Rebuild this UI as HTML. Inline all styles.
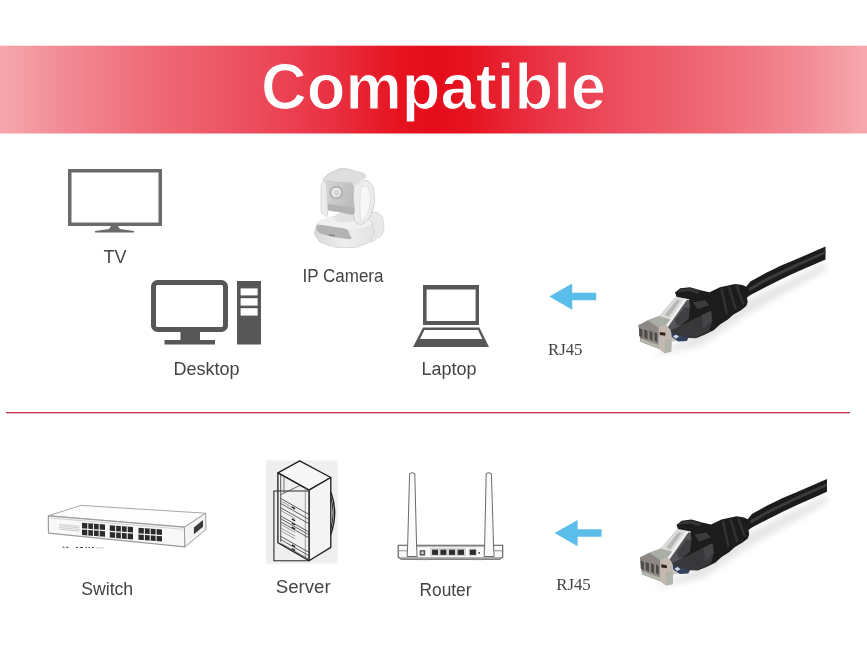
<!DOCTYPE html>
<html lang="en">
<head>
<meta charset="utf-8">
<title>Compatible</title>
<style>
html,body{margin:0;padding:0;background:#fff;}
body{width:867px;height:650px;overflow:hidden;position:relative;}
svg{position:absolute;left:0;top:0;display:block;will-change:transform;}
.sans{font-family:"Liberation Sans",sans-serif;}
.serif{font-family:"Liberation Serif",serif;}
</style>
</head>
<body>
<svg width="867" height="650" viewBox="0 0 867 650">
<defs>
<linearGradient id="ban" x1="0" x2="1" y1="0" y2="0">
<stop offset="0" stop-color="#f6a8ae"/>
<stop offset="0.07" stop-color="#f28c96"/>
<stop offset="0.17" stop-color="#ef6c79"/>
<stop offset="0.29" stop-color="#ec4e5e"/>
<stop offset="0.38" stop-color="#e93143"/>
<stop offset="0.46" stop-color="#e6131f"/>
<stop offset="0.5" stop-color="#e50c1b"/>
<stop offset="0.54" stop-color="#e6131f"/>
<stop offset="0.62" stop-color="#e93143"/>
<stop offset="0.71" stop-color="#ec4e5e"/>
<stop offset="0.83" stop-color="#ef6c79"/>
<stop offset="0.93" stop-color="#f28c96"/>
<stop offset="1" stop-color="#f6a8ae"/>
</linearGradient>
<linearGradient id="ban2" href="#ban" gradientUnits="userSpaceOnUse" x1="0" x2="867" y1="0" y2="0"/>
<g id="arrow"><path d="M0 13 L23 0 L23 9.3 L47 9.3 L47 16.8 L23 16.8 L23 26.2 Z" fill="#5bbde9"/></g>
<filter id="blur" x="-20%" y="-20%" width="140%" height="140%"><feGaussianBlur stdDeviation="3"/></filter>
<linearGradient id="plug" x1="0" x2="1" y1="0" y2="0"><stop offset="0" stop-color="#a9a7a3"/><stop offset="0.5" stop-color="#c9c9c7"/><stop offset="1" stop-color="#8a8d92"/></linearGradient>
<linearGradient id="camb" x1="0" x2="1" y1="0" y2="0"><stop offset="0" stop-color="#d9d9d9"/><stop offset="0.5" stop-color="#efefef"/><stop offset="1" stop-color="#e2e2e2"/></linearGradient>
<linearGradient id="camh" x1="0" x2="1" y1="0" y2="0.3"><stop offset="0" stop-color="#d6d6d6"/><stop offset="0.6" stop-color="#c8c8c8"/><stop offset="1" stop-color="#bcbcbc"/></linearGradient>
<filter id="soft" x="-10%" y="-10%" width="120%" height="120%"><feGaussianBlur stdDeviation="0.45"/></filter>
</defs>

<!-- banner -->
<rect x="0" y="45.7" width="867" height="87.8" fill="url(#ban)"/>
<text class="sans" x="433.5" y="108.6" font-size="64" font-weight="bold" fill="#fff" stroke="url(#ban2)" stroke-width="1.2" text-anchor="middle" textLength="345" lengthAdjust="spacingAndGlyphs">Compatible</text>

<!-- TV -->
<g id="tv">
<rect x="69.75" y="170.75" width="90.5" height="53.5" fill="none" stroke="#6a6a6a" stroke-width="3.5"/>
<path d="M111 226 L118 226 L120 229 L134 231 L134 232.5 L95 232.5 L95 231 L109 229 Z" fill="#6a6a6a"/>
</g>
<text class="sans" x="115" y="263" font-size="18" fill="#444" text-anchor="middle">TV</text>

<!-- Desktop -->
<g id="desktop" fill="#575757">
<rect x="153.5" y="282.5" width="72" height="47" rx="4" ry="4" fill="none" stroke="#575757" stroke-width="5"/>
<rect x="180.5" y="331" width="19.5" height="10"/>
<rect x="164.5" y="340" width="50.5" height="4.5"/>
<rect x="237" y="281" width="24" height="63.5"/>
<rect x="240.6" y="288.4" width="17" height="7" fill="#fff"/>
<rect x="240.6" y="298.2" width="17" height="7.4" fill="#fff"/>
<rect x="240.6" y="308.2" width="17" height="7.4" fill="#fff"/>
</g>
<text class="sans" x="206.5" y="375" font-size="18" fill="#444" text-anchor="middle">Desktop</text>

<!-- IP Camera -->
<g id="camera" filter="url(#soft)">
<path d="M367.3 216.8 C369.5 212.3 370.7 212.8 374.2 212.3 C377.7 211.9 378.1 212.6 380.5 215.1 C382.9 217.6 382.6 216.9 383.2 221.6 C383.9 226.3 384.5 228.3 382.8 232.7 C381.2 237.1 380.4 236.0 377.0 238.2 C373.6 240.4 373.0 243.4 370.1 241.0 C367.1 238.6 366.7 235.7 365.9 229.2 C365.2 222.8 365.1 221.3 367.3 216.8 Z" fill="#e9e9e9" stroke="#d2d2d2" stroke-width="0.8"/>
<path d="M315.8 228.5 C318.0 222.9 315.2 223.2 324.4 219.5 C333.6 215.9 334.1 216.7 346.5 216.5 C359.0 216.3 357.9 215.9 365.9 218.8 C373.9 221.8 371.1 220.9 373.1 226.5 C375.1 232.1 375.6 232.1 372.6 237.5 C369.6 243.0 371.0 241.8 363.2 244.7 C355.3 247.7 357.3 247.5 346.5 247.5 C335.7 247.5 336.0 247.5 327.2 244.7 C318.3 242.0 320.6 243.1 317.2 238.2 C313.8 233.4 313.6 234.1 315.8 228.5 Z" fill="url(#camb)" stroke="#d0d0d0" stroke-width="0.8"/>
<ellipse cx="344.5" cy="223.0" rx="27" ry="6.5" fill="#f1f1f1"/>
<path d="M317.7 225.1 C320.2 224.2 327.9 226.0 332.7 226.7 C337.5 227.4 343.7 227.9 346.5 229.2 C349.4 230.6 349.3 233.1 350.0 234.8 C350.7 236.4 352.4 238.7 350.7 239.2 C349.0 239.7 343.3 238.4 339.6 237.8 C335.9 237.3 332.1 236.8 328.5 235.9 C325.0 234.9 320.0 233.8 318.2 232.0 C316.4 230.2 315.3 226.0 317.7 225.1 Z" fill="#b3b3b3"/>
<path d="M329.2 234.9 L334.8 235.9" stroke="#7d7d7d" stroke-width="1.1" fill="none"/>
<path d="M337.5 213.3 C340.6 212.0 348.3 212.6 351.4 214.3 C354.4 215.9 355.8 220.3 352.8 221.6 C349.7 222.9 339.2 222.6 336.2 220.9 C333.1 219.3 334.5 214.6 337.5 213.3 Z" fill="#e2e2e2"/>
<path d="M353.2 189.8 C354.7 182.2 357.3 184.9 360.4 182.8 C363.5 180.7 363.9 180.1 366.6 180.8 C369.4 181.4 370.4 182.1 372.2 185.6 C373.9 189.2 373.9 191.0 374.2 196.0 C374.6 201.0 375.2 201.4 373.5 207.1 C371.9 212.7 370.9 216.3 367.3 220.2 C363.8 224.2 361.5 225.1 358.3 224.0 C355.1 222.8 354.9 223.4 353.7 215.4 C352.5 207.4 351.6 197.4 353.2 189.8 Z" fill="#ededed" stroke="#c8c8c8" stroke-width="0.8"/>
<path d="M360.7 191.2 C361.8 183.6 363.7 186.5 365.6 186.3 C367.6 186.1 368.1 186.3 369.1 190.5 C370.1 194.7 371.1 198.0 370.1 204.3 C369.1 210.6 367.0 214.1 364.8 217.5 C362.6 220.9 361.6 225.0 360.7 218.8 C359.7 212.7 359.5 198.7 360.7 191.2 Z" fill="#f7f7f7" stroke="#d8d8d8" stroke-width="0.7"/>
<path d="M325.5 176.3 C327.5 174.2 328.8 173.6 332.7 171.8 C336.6 170.0 337.2 168.7 342.4 168.6 C347.6 168.4 349.4 169.5 354.8 171.1 C360.3 172.6 364.4 173.0 365.6 175.2 C366.9 177.5 363.4 178.8 360.4 180.8 C357.4 182.8 357.9 183.2 352.8 183.8 C347.6 184.4 344.9 183.9 338.2 183.3 C331.5 182.6 327.1 182.7 324.1 181.0 C321.1 179.4 323.5 178.5 325.5 176.3 Z" fill="#dedede" stroke="#cccccc" stroke-width="0.8"/>
<path d="M323.3 182.2 C325.7 180.1 333.4 182.2 338.2 182.4 C343.1 182.7 350.0 181.1 352.5 183.8 C355.0 186.5 353.3 193.7 353.5 198.8 C353.6 203.8 355.8 212.2 353.5 214.3 C351.2 216.3 344.4 212.3 339.6 211.0 C334.8 209.6 327.3 209.1 324.7 206.4 C322.0 203.7 323.8 198.7 323.6 194.6 C323.3 190.6 320.8 184.2 323.3 182.2 Z" fill="url(#camh)" stroke="#c4c4c4" stroke-width="0.8"/>
<path d="M325.5 204.0 C326.9 203.6 336.9 205.3 339.6 205.7 C342.3 206.1 351.4 207.1 352.8 207.9 C354.1 208.8 354.5 213.8 353.2 214.3 C351.9 214.7 342.4 212.8 339.6 212.3 C336.9 211.9 327.2 210.7 325.8 209.8 C324.4 209.0 324.1 204.4 325.5 204.0 Z" fill="#b2b2b2"/>
<path d="M321.3 184.9 C321.9 181.5 322.8 182.3 323.7 181.9 C324.6 181.5 325.4 179.2 326.0 182.8 C326.7 186.5 326.9 193.6 327.2 200.2 C327.4 206.7 328.1 212.6 327.4 215.4 C326.7 218.2 324.9 215.0 323.7 214.3 C322.5 213.6 321.9 215.0 321.3 211.9 C320.8 208.8 321.1 204.2 321.1 198.8 C321.1 193.4 320.8 188.3 321.3 184.9 Z" fill="#ebebeb" stroke="#d2d2d2" stroke-width="0.8"/>
<circle cx="336.2" cy="192.5" r="6.8" fill="#b2b2b2"/>
<circle cx="336.2" cy="192.5" r="4.8" fill="#ececec"/>
<circle cx="336.6" cy="192.9" r="2.8" fill="#d4d4d4"/>
</g>
<text class="sans" x="343" y="282" font-size="18" fill="#444" text-anchor="middle" textLength="81" lengthAdjust="spacingAndGlyphs">IP Camera</text>

<!-- Laptop -->
<g id="laptop" fill="#575757">
<path d="M423 285 H479 V325 H423 Z M426.6 289.6 V321 H475.6 V289.6 Z" fill-rule="evenodd"/>
<path d="M423 327.4 H479.4 L489 347 H413 Z M424.4 330 L420 339 H482.4 L478 330 Z" fill-rule="evenodd"/>
</g>
<text class="sans" x="449" y="375.4" font-size="18" fill="#444" text-anchor="middle">Laptop</text>

<!-- arrows -->
<use href="#arrow" x="549.2" y="283.5"/>
<use href="#arrow" x="554.6" y="520"/>
<text class="serif" x="548" y="355" font-size="16.8" fill="#444">RJ45</text>
<text class="serif" x="556.2" y="590" font-size="16.8" fill="#444">RJ45</text>

<!-- cables -->
<g id="cable">
<path d="M650 356 L700 346 L748 314 L826 270 L826 262 L748 300 L690 338 Z" fill="#e5e5e5" filter="url(#blur)"/>
<g filter="url(#soft)">
<path d="M638.3 325.2 L648.0 320.1 L659.3 315.8 L675.5 296.8 L686.8 299.3 L684.6 314.9 L683.5 324.6 L671.2 331.1 L671.7 333.8 L685.7 339.7 L671.7 341.8 L671.2 351.5 L664.7 353.2 L658.8 348.8 L640.5 341.8 Z" fill="#c6c6c3"/>
<path d="M659.3 315.8 L675.5 296.8 L685.7 299.0 L665.2 327.8 L658.8 327.8 Z" fill="#dbdbd9"/>
<path d="M664.7 314.9 L677.1 299.8 L680.3 300.7 L668.5 317.1 Z" fill="#b6b7b5"/>
<path d="M662.2 330.2 L684.6 298.8 L687.0 299.6 L665.2 330.5 Z" fill="#f2f2f2"/>
<path d="M666.3 329.5 L687.0 299.8 L694.3 300.9 L694.3 323.5 L671.2 331.1 Z" fill="#55565a"/>
<path d="M674.9 320.3 L684.6 307.4 L694.3 307.4 L694.3 322.5 L677.1 325.7 Z" fill="#3f4043"/>
<path d="M648.0 320.3 L659.3 316.0 L670.6 319.4 L666.3 324.8 L658.8 327.8 Z" fill="#a9aea6"/>
<path d="M638.3 325.2 L648.0 320.3 L658.8 327.8 L658.8 348.8 L640.5 341.8 Z" fill="#8d8883"/>
<path d="M639.2 328.1 L642.4 329.7 L642.4 338.0 L639.2 335.9 Z" fill="#4f4a46"/>
<path d="M644.2 329.3 L647.5 331.0 L647.5 339.5 L644.2 337.4 Z" fill="#4f4a46"/>
<path d="M649.6 330.7 L652.5 332.3 L652.5 341.0 L649.6 339.1 Z" fill="#4f4a46"/>
<path d="M654.5 331.9 L657.2 333.4 L657.2 342.4 L654.5 340.5 Z" fill="#4f4a46"/>
<path d="M640.5 338.6 L658.8 345.1 L658.8 348.8 L640.5 341.8 Z" fill="#b3b7ae"/>
<path d="M658.8 327.8 L666.3 324.8 L671.2 331.1 L671.7 341.8 L671.2 351.5 L664.7 353.2 L658.8 348.8 Z" fill="#c4b9b1"/>
<path d="M664.7 339.7 L671.2 338.6 L671.2 351.5 L664.7 353.2 Z" fill="#b0b3aa"/>
<path d="M659.8 331.9 L665.4 332.8 L665.4 335.8 L659.8 335.0 Z" fill="#33241d"/>
<path d="M671.2 332.2 L679.2 331.1 L688.9 337.0 L686.8 341.0 L678.2 341.6 L671.7 337.0 Z" fill="#36425e"/>
<path d="M673.0 336.2 L676.2 334.5 L679.0 336.7 L675.6 338.8 Z" fill="#cfd6e2"/>
<path d="M675.0 292.5 L680.2 288.3 L690.0 287.2 L700.5 290.2 L709.5 292.2 L720.0 287.2 L735.0 283.9 L742.5 285.0 L746.2 286.8 L750.4 281.5 L765.8 273.1 L781.2 265.6 L795.0 259.8 L825.5 246.6 L825.5 259.4 L795.0 272.8 L781.2 279.3 L765.8 287.0 L750.4 295.0 L747.0 297.5 L747.7 302.2 L746.2 306.0 L741.0 310.2 L733.5 314.5 L727.5 319.8 L720.0 324.6 L714.0 330.0 L705.0 334.5 L696.0 338.2 L693.7 334.8 L687.7 333.7 L681.7 330.0 L680.2 325.8 L688.5 319.5 L690.0 307.5 L689.2 299.2 L676.5 296.7 Z" fill="#1b1b1b"/>
<path d="M670.4 330.6 L711.0 310.8 L712.6 320.3 L709.4 331.1 L700.0 335.8 L695.7 338.2 L688.8 337.9 L671.9 333.2 Z" fill="#37373a"/>
<path d="M702.0 315.0 L711.0 310.8 L712.2 320.2 L703.5 330.0 Z" fill="#444447"/>
<path d="M676.2 292.5 L680.7 289.2 L690.0 288.1 L699.7 291.1 L698.2 294.0 L689.2 291.3 L681.0 291.9 Z" fill="#353535"/>
<path d="M693.0 302.2 L705.0 300.0 L709.5 305.2 L697.5 309.0 Z" fill="#3a3a3a"/>
<path d="M720.0 288.7 L722.7 288.3 L728.1 313.8 L726.0 315.0 Z" fill="#303030"/>
<path d="M727.5 286.8 L730.2 286.3 L737.1 309.3 L735.0 310.5 Z" fill="#303030"/>
<path d="M735.0 285.3 L737.7 284.8 L744.6 304.0 L742.5 305.2 Z" fill="#303030"/>
<path d="M748.0 288.5 L765.8 278.3 L795.0 264.2 L825.5 251.0 L825.5 253.8 L795.0 267.4 L765.8 281.5 L750.0 291.0 Z" fill="#3d3d3d"/>
</g>
</g>
<use href="#cable" x="1.5" y="232.4"/>

<!-- divider -->
<rect x="6" y="412" width="844" height="1.3" fill="#c8324a"/>

<g id="switch">
<path d="M48.3 515.8 L81.0 505.4 L205.6 513.2 L184.4 527.2 Z" fill="#fdfdfd" stroke="#a8a8a8" stroke-width="1" stroke-linejoin="round"/>
<path d="M48.3 515.8 L184.4 527.2 L184.9 546.9 L48.5 533.2 Z" fill="#f8f8f8" stroke="#9c9c9c" stroke-width="1.2" stroke-linejoin="round"/>
<path d="M184.4 527.2 L205.6 513.2 L206.0 529.3 L184.9 546.9 Z" fill="#f4f4f4" stroke="#9c9c9c" stroke-width="1" stroke-linejoin="round"/>
<path d="M50.5 518.0 L182.5 529.2" fill="none" stroke="#c8c8c8" stroke-width="0.8"/>
<path d="M82.0 522.8 L105.0 524.6 L105.0 536.8 L82.0 535.0 Z" fill="#2b2b2b"/>
<path d="M87.8 523.2 L87.8 535.5" fill="none" stroke="#f0f0f0" stroke-width="1.1"/>
<path d="M93.5 523.7 L93.5 535.9" fill="none" stroke="#f0f0f0" stroke-width="1.1"/>
<path d="M99.2 524.1 L99.2 536.3" fill="none" stroke="#f0f0f0" stroke-width="1.1"/>
<path d="M82.0 528.9 L105.0 530.7" fill="none" stroke="#f4f4f4" stroke-width="1.3"/>
<path d="M109.8 525.2 L133.0 527.0 L133.0 539.4 L109.8 537.6 Z" fill="#2b2b2b"/>
<path d="M115.6 525.7 L115.6 538.0" fill="none" stroke="#f0f0f0" stroke-width="1.1"/>
<path d="M121.4 526.1 L121.4 538.5" fill="none" stroke="#f0f0f0" stroke-width="1.1"/>
<path d="M127.2 526.5 L127.2 539.0" fill="none" stroke="#f0f0f0" stroke-width="1.1"/>
<path d="M109.8 531.4 L133.0 533.2" fill="none" stroke="#f4f4f4" stroke-width="1.3"/>
<path d="M138.5 527.7 L162.0 529.6 L162.0 541.6 L138.5 539.8 Z" fill="#2b2b2b"/>
<path d="M144.4 528.2 L144.4 540.2" fill="none" stroke="#f0f0f0" stroke-width="1.1"/>
<path d="M150.2 528.7 L150.2 540.7" fill="none" stroke="#f0f0f0" stroke-width="1.1"/>
<path d="M156.1 529.1 L156.1 541.1" fill="none" stroke="#f0f0f0" stroke-width="1.1"/>
<path d="M138.5 533.8 L162.0 535.6" fill="none" stroke="#f4f4f4" stroke-width="1.3"/>
<path d="M59.2 524.4 L79.4 526.3" fill="none" stroke="#c4c4c4" stroke-width="0.8"/>
<path d="M59.2 526.0 L79.4 527.9" fill="none" stroke="#c4c4c4" stroke-width="0.8"/>
<path d="M59.2 527.6 L79.4 529.5" fill="none" stroke="#c4c4c4" stroke-width="0.8"/>
<path d="M59.2 529.2 L79.4 531.1" fill="none" stroke="#c4c4c4" stroke-width="0.8"/>
<path d="M193.9 527.4 L203.0 520.1 L203.0 526.7 L193.9 534.2 Z" fill="#3a3a3a"/>
<path d="M62.5 547.2 L64.5 547.3" fill="none" stroke="#444" stroke-width="1"/>
<path d="M66.0 547.2 L68.5 547.4" fill="none" stroke="#444" stroke-width="1"/>
<path d="M76.0 547.3 L78.0 547.5" fill="none" stroke="#444" stroke-width="1"/>
<path d="M80.0 547.4 L83.0 547.5" fill="none" stroke="#444" stroke-width="1"/>
<path d="M85.5 547.4 L87.0 547.5" fill="none" stroke="#444" stroke-width="1"/>
<path d="M88.5 547.5 L90.0 547.6" fill="none" stroke="#444" stroke-width="1"/>
<path d="M92.0 547.5 L94.0 547.6" fill="none" stroke="#444" stroke-width="1"/>
<path d="M96.0 547.7 L103.5 547.9" fill="none" stroke="#bbb" stroke-width="0.8"/>
</g>
<g id="server">
<rect x="266" y="460.3" width="71.6" height="103.3" fill="#efefef"/>
<path d="M299.7 460.9 L330.8 477.5 L309.0 490.1 L277.9 472.9 Z" fill="#f7f7f7" stroke="#1e1e1e" stroke-width="1.3" stroke-linejoin="round"/>
<path d="M309.0 490.1 L330.8 477.5 L330.8 547.4 L309.0 560.7 Z" fill="#f4f4f4" stroke="#1e1e1e" stroke-width="1.3" stroke-linejoin="round"/>
<path d="M277.9 472.9 L309.0 490.1 L309.0 560.7 L277.9 542.8 Z" fill="#f1f1f1" stroke="#1e1e1e" stroke-width="1.3" stroke-linejoin="round"/>
<path d="M309.0 491.0 L273.9 491.0 L273.9 560.7 L309.0 560.7" fill="none" stroke="#2a2a2a" stroke-width="1.1"/>
<path d="M280.7 475.0 L280.7 541.8" fill="none" stroke="#444" stroke-width="0.9"/>
<path d="M284.0 476.8 L284.0 492.9" fill="none" stroke="#555" stroke-width="0.8"/>
<path d="M280.7 494.7 L299.7 485.5 L309.0 490.1" fill="none" stroke="#444" stroke-width="0.8"/>
<path d="M305.3 488.6 L305.3 558.5" fill="none" stroke="#777" stroke-width="0.7"/>
<path d="M280.7 498.4 L308.4 514.1" fill="none" stroke="#3a3a3a" stroke-width="0.8"/>
<path d="M280.7 503.4 L308.4 519.1" fill="none" stroke="#3a3a3a" stroke-width="0.8"/>
<path d="M280.7 507.7 L308.4 523.4" fill="none" stroke="#3a3a3a" stroke-width="0.8"/>
<path d="M280.7 516.0 L308.4 531.7" fill="none" stroke="#3a3a3a" stroke-width="0.8"/>
<path d="M280.7 518.7 L308.4 534.5" fill="none" stroke="#3a3a3a" stroke-width="0.8"/>
<path d="M280.7 521.9 L308.4 537.6" fill="none" stroke="#3a3a3a" stroke-width="0.8"/>
<path d="M280.7 536.3 L308.4 552.0" fill="none" stroke="#3a3a3a" stroke-width="0.8"/>
<path d="M280.7 539.6 L308.4 555.3" fill="none" stroke="#3a3a3a" stroke-width="0.8"/>
<path d="M280.7 543.3 L308.4 559.0" fill="none" stroke="#3a3a3a" stroke-width="0.8"/>
<path d="M280.7 500.8 L295.1 509.0" fill="none" stroke="#777" stroke-width="0.7"/>
<path d="M280.7 510.4 L295.1 518.6" fill="none" stroke="#777" stroke-width="0.7"/>
<path d="M280.7 524.3 L295.1 532.4" fill="none" stroke="#777" stroke-width="0.7"/>
<path d="M280.7 528.0 L295.1 536.1" fill="none" stroke="#777" stroke-width="0.7"/>
<path d="M280.7 530.8 L295.1 538.9" fill="none" stroke="#777" stroke-width="0.7"/>
<path d="M291.8 506.9 L295.1 508.8" fill="none" stroke="#222" stroke-width="1.4"/>
<path d="M291.8 518.9 L295.1 520.8" fill="none" stroke="#222" stroke-width="1.4"/>
<path d="M291.8 523.0 L295.1 524.8" fill="none" stroke="#222" stroke-width="1.4"/>
<path d="M291.8 527.2 L295.1 529.1" fill="none" stroke="#222" stroke-width="1.4"/>
<path d="M291.8 544.8 L295.1 546.6" fill="none" stroke="#222" stroke-width="1.4"/>
<path d="M291.8 548.5 L295.1 550.3" fill="none" stroke="#222" stroke-width="1.4"/>
<path d="M330.8 492.0 Q338.5 512.3 330.8 534.5" fill="none" stroke="#1e1e1e" stroke-width="1.4"/>
<path d="M330.8 497.5 Q335.4 512.3 330.8 528.9" fill="none" stroke="#1e1e1e" stroke-width="1"/>
</g>
<g id="router">
<path d="M398.2 545.2 L502.7 545.2 L502.7 557.0 L500.0 559.1 L401.0 559.1 L398.2 557.0 Z" fill="#fafafa" stroke="#555" stroke-width="1.1" stroke-linejoin="round"/>
<path d="M398.2 550.8 L407.9 550.8" fill="none" stroke="#777" stroke-width="0.8"/>
<path d="M493.7 550.8 L502.7 550.8" fill="none" stroke="#777" stroke-width="0.8"/>
<path d="M400.3 557.7 L500.7 557.7" fill="none" stroke="#888" stroke-width="0.8"/>
<path d="M407.2 546.6 L494.4 546.6" fill="none" stroke="#999" stroke-width="0.8"/>
<path d="M409.6 473.5 Q412.2 472 414.8 473.5 L416.6 547 L417.1 556.5 L407.1 556.5 L407.6 547 Z" fill="#fbfbfb" stroke="#6a6a6a" stroke-width="1"/>
<path d="M486.2 473.5 Q488.8 472 491.4 473.5 L493.6 547 L494.1 556.5 L484.1 556.5 L484.6 547 Z" fill="#fbfbfb" stroke="#6a6a6a" stroke-width="1"/>
<path d="M430.1 548.0 L466.0 548.0 L466.0 556.0 L430.1 556.0 Z" fill="#d4d4d4"/>
<path d="M432.1 549.7 L438.0 549.7 L438.0 554.9 L432.1 554.9 Z" fill="#2e2e2e"/>
<path d="M440.4 549.7 L446.3 549.7 L446.3 554.9 L440.4 554.9 Z" fill="#2e2e2e"/>
<path d="M449.0 549.7 L455.0 549.7 L455.0 554.9 L449.0 554.9 Z" fill="#2e2e2e"/>
<path d="M457.7 549.7 L464.0 549.7 L464.0 554.9 L457.7 554.9 Z" fill="#2e2e2e"/>
<path d="M468.8 548.7 L476.7 548.7 L476.7 555.6 L468.8 555.6 Z" fill="#c8c8c8"/>
<path d="M469.8 549.7 L475.9 549.7 L475.9 554.9 L469.8 554.9 Z" fill="#2e2e2e"/>
<path d="M419.7 550.1 L425.2 550.1 L425.2 555.6 L419.7 555.6 Z" fill="#555"/>
<path d="M421.3 551.5 L423.6 551.5 L423.6 554.2 L421.3 554.2 Z" fill="#ddd"/>
<circle cx="479.2" cy="552.8" r="0.9" fill="#333"/>
<path d="M418.3 559.6 L428.0 559.6" fill="none" stroke="#888" stroke-width="1"/>
<path d="M473.7 559.6 L483.3 559.6" fill="none" stroke="#888" stroke-width="1"/>
</g>
<!-- Switch / Server / Router labels -->
<text class="sans" x="107.2" y="594.6" font-size="18.5" fill="#444" text-anchor="middle" textLength="52" lengthAdjust="spacingAndGlyphs">Switch</text>
<text class="sans" x="303.2" y="592.8" font-size="18.7" fill="#444" text-anchor="middle">Server</text>
<text class="sans" x="445.5" y="596.2" font-size="18.5" fill="#444" text-anchor="middle" textLength="52" lengthAdjust="spacingAndGlyphs">Router</text>
</svg>
</body>
</html>
